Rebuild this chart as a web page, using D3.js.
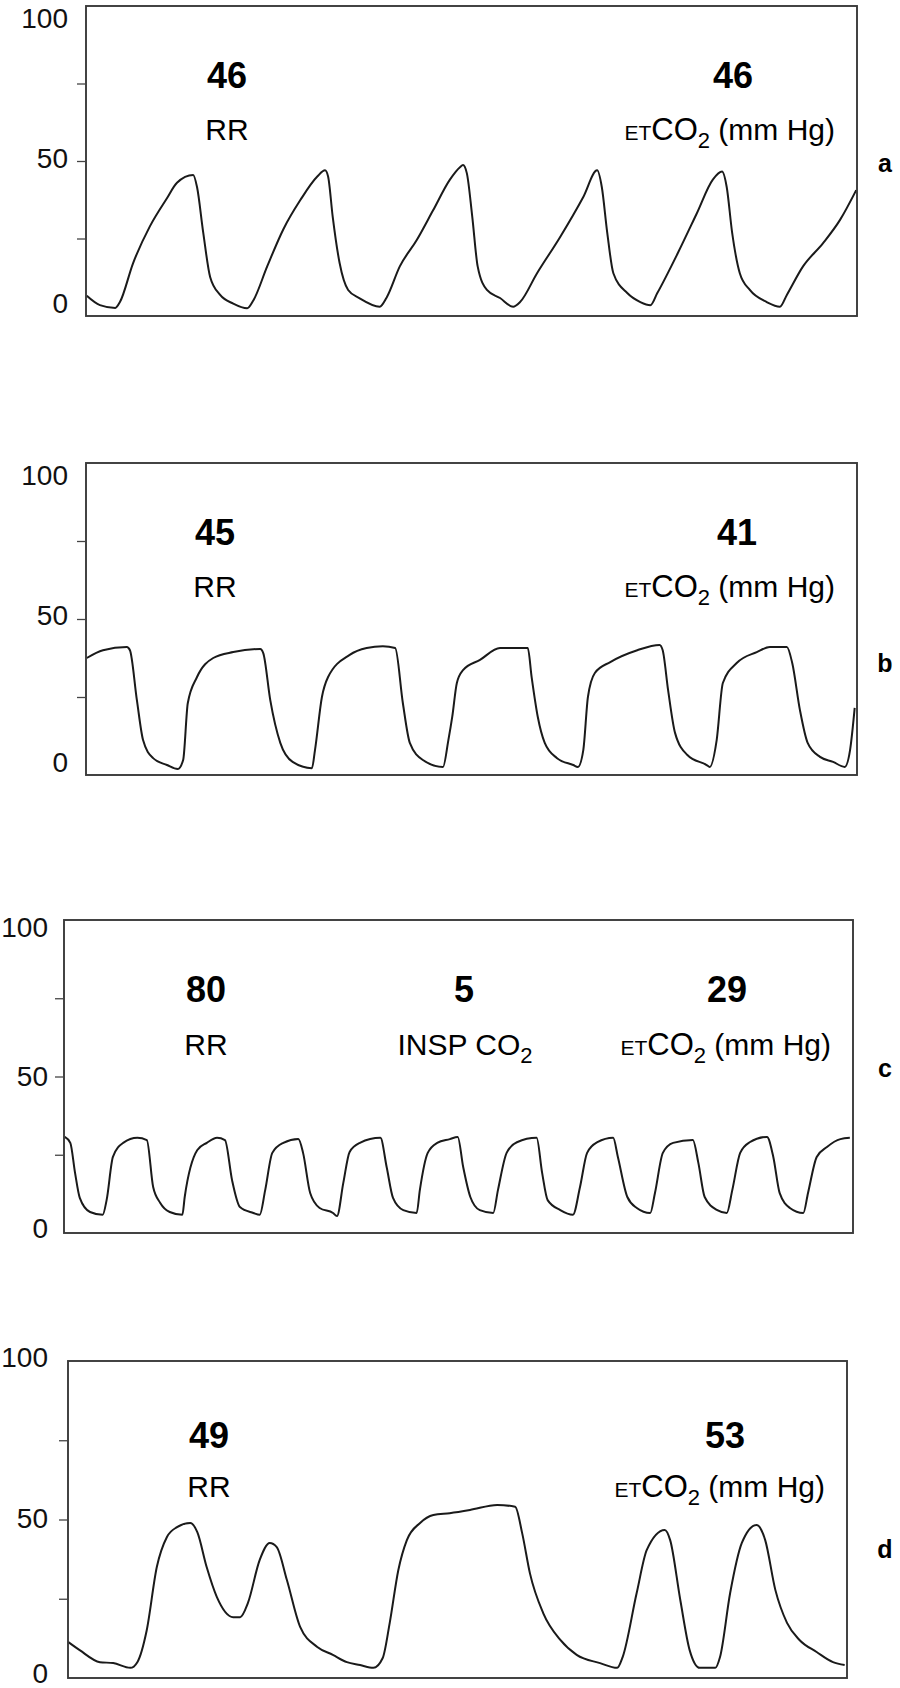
<!DOCTYPE html>
<meta charset="utf-8">
<style>
body { margin: 0; background: #fff; }
svg { display: block; font-family: "Liberation Sans", Arial, sans-serif; }
.axis .domain { display: none; }
</style>
<svg width="900" height="1688"></svg>
<script src="https://cdnjs.cloudflare.com/ajax/libs/d3/7.8.5/d3.min.js"></script>
<script>

// capnograph traces, time as % of sweep, CO2 in mm Hg
var aTime = [0.1, 1.8, 3.8, 4.4, 6.1, 8.3, 10.5, 11.8, 13.9, 14.4, 15.2, 16.1, 17.4, 19.1, 20.9, 21.7, 23.5, 25.6, 27.8, 30.0,
             31.0, 31.4, 32.0, 32.9, 34.0, 35.5, 38.1, 39.0, 40.7, 42.9, 45.0, 47.2, 48.5, 48.9, 49.4, 50.1, 50.8, 52.0, 53.7, 55.4,
             56.3, 58.5, 61.5, 64.5, 66.3, 66.9, 67.6, 68.4, 70.2, 71.9, 73.2, 74.1, 76.7, 79.2, 81.3, 82.5, 83.1, 83.8, 84.8, 86.1,
             88.3, 90.0, 90.9, 93.0, 95.6, 97.8, 99.9];
var aCO2 = [6.5, 3.5, 2.6, 4.5, 17, 29, 38, 43, 45.5, 41.6, 27, 12.6, 6.8, 4, 2.5, 5, 16, 28, 37.4, 45,
            47, 45, 32, 17, 8.4, 5.7, 3, 6, 16, 24.5, 34, 44, 48, 48.7, 46, 32, 16, 8.4, 5.8, 3,
            4.5, 13.8, 25.5, 38.4, 47, 41.6, 27, 13.8, 7.4, 4.5, 3.5, 7.4, 20, 33, 44, 46.6, 41.6, 27, 13.8, 8.4,
            4.5, 3, 6.8, 16, 23.5, 31, 40.6];

var bTime = [0.1, 2.2, 5.3, 5.7, 6.6, 7.4, 8.7, 10.5, 11.9, 12.6, 13.2, 14.4, 16.5, 19.1, 22.6, 23.0, 23.9, 25.2, 26.8, 29.3,
             29.7, 30.6, 31.4, 34.2, 36.4, 38.5, 40.1, 41.1, 42.0, 43.7, 46.3, 47.0, 47.5, 48.1, 48.9, 51.1, 53.7, 57.3, 57.8, 58.6,
             59.5, 61.1, 63.2, 63.8, 64.5, 65.1, 66.0, 68.0, 71.5, 74.4, 74.8, 75.5, 76.4, 78.0, 80.5, 80.9, 81.8, 82.6, 84.4, 87.0,
             88.7, 90.9, 91.6, 92.6, 93.6, 95.2, 96.9, 98.4, 99.1, 99.7];
var bCO2 = [37.5, 40, 41, 40, 24, 11.2, 5.4, 3.2, 1.9, 4.8, 23, 31.4, 37.5, 39.4, 40.4, 39, 24, 10.3, 4.2, 2.2,
            8, 25, 31.4, 38.5, 40.7, 41.3, 40.7, 23, 10.3, 4.8, 2.6, 11.2, 18.6, 29.5, 33.6, 36.9, 40.7, 40.7, 31.4, 18.6,
            10.3, 5.4, 3.2, 2.6, 8, 25, 32.7, 36.2, 40, 41.7, 40, 27.2, 13.5, 6.4, 3.2, 2.6, 11.2, 29.5, 35.9, 39.4,
            41, 41, 35.9, 20.8, 10.3, 5.8, 4.2, 2.6, 8, 21.5];

var cTime = [0.1, 0.8, 1.4, 2.0, 3.3, 4.9, 5.4, 6.2, 7.5, 9.3, 10.5, 11.3, 12.2, 13.4, 15.0, 15.3, 16.9, 18.1, 19.4, 20.4,
             21.3, 22.3, 24.0, 24.8, 25.5, 26.4, 27.8, 29.7, 30.3, 31.2, 32.4, 34.1, 34.6, 35.4, 36.2, 37.5, 40.1, 40.9, 41.7, 43.0,
             44.7, 45.1, 46.1, 47.3, 48.9, 49.9, 50.6, 51.5, 52.7, 54.4, 55.0, 56.1, 57.4, 59.9, 60.6, 61.3, 62.9, 64.5, 65.4, 66.3,
             67.6, 69.6, 70.2, 71.4, 72.6, 74.3, 74.9, 75.9, 77.2, 79.7, 80.4, 81.2, 82.8, 84.0, 84.7, 85.7, 86.9, 89.1, 89.9, 90.7,
             92.0, 93.7, 94.3, 95.4, 96.7, 98.4, 99.6];
var cCO2 = [30.7, 28.8, 19.2, 11.2, 6.7, 5.8, 10.5, 24.3, 28.8, 30.4, 29.7, 14.7, 9.6, 6.7, 5.8, 11.5, 26.5, 28.8, 30.4, 29.7,
            16.9, 8.3, 6.4, 5.8, 13.7, 25.6, 28.8, 30, 25.6, 12.8, 8, 6.4, 5.4, 16, 25.9, 28.8, 30.4, 21, 11.2, 7.3,
            6.4, 13.7, 25.6, 28.8, 30, 30.7, 21, 11.5, 7.3, 6.4, 13.7, 25.6, 29, 30.4, 19.2, 10.5, 7.3, 5.8, 14.7, 25.6,
            29, 30.4, 24.3, 11.5, 8, 6.4, 12.8, 25.6, 28.8, 29.7, 22.4, 11.5, 7.3, 6.4, 13.7, 25.6, 29, 30.7, 24.3, 12.8,
            8, 6.4, 12.8, 24.3, 27.5, 30, 30.4];

var dTime = [0, 1.5, 4.1, 5.8, 8.0, 8.9, 10.1, 11.4, 12.7, 14.0, 15.7, 16.6, 17.8, 19.1, 21.2, 22.1, 23.1, 24.6, 25.9, 26.8,
             28.1, 29.8, 32.0, 34.0, 35.8, 37.5, 39.2, 40.4, 41.3, 42.4, 43.5, 45.2, 46.9, 49.0, 51.6, 55.1, 57.4, 58.3, 59.3, 61.0,
             63.2, 65.3, 68.3, 70.5, 71.2, 73.0, 74.3, 76.6, 77.3, 78.6, 79.8, 81.1, 83.1, 83.7, 85.0, 86.5, 88.4, 89.5, 90.8, 92.3,
             93.9, 96.1, 98.2, 99.7];
var dCO2 = [11.4, 8.8, 5, 4.7, 3.2, 5, 15, 35, 44.5, 47.6, 48.9, 46, 35, 25.6, 19.2, 19.2, 23.7, 37.2, 42.6, 41.3,
            30.9, 16.1, 9.8, 7.3, 5, 4.1, 3.2, 6.3, 17.4, 34, 43.5, 48.9, 51.4, 52, 53, 54.6, 54, 45.7, 33, 20.5,
            12, 7.3, 4.7, 3.2, 6.6, 26.8, 40.4, 46.7, 43.5, 24.6, 8.8, 3.2, 3.2, 6.6, 26.8, 42.6, 48.3, 43.5, 27.8, 17.4,
            12, 8.2, 5, 4.1];

var panelLetters = ["a", "b", "c", "d"];
var rrValues = ["46", "45", "80", "49"];
var etco2Values = ["46", "41", "29", "53"];
var inspValues = [null, null, "5", null];
var yLabels = [0, 50, 100];
var yTicks = [25, 50, 75];

// page layout (px)
var frames = [
  {x0: 86, x1: 857, y0: 6,    y1: 316,  lblX: 18, dTop: 12, dMid: -3, dBot: -13, numY: 88,   txtY: 140,  rrX: 227, etX: 733, letY: 172},
  {x0: 86, x1: 857, y0: 463,  y1: 775,  lblX: 18, dTop: 12, dMid: -4, dBot: -13, numY: 545,  txtY: 597,  rrX: 215, etX: 737, letY: 672},
  {x0: 64, x1: 853, y0: 920,  y1: 1233, lblX: 16, dTop: 7,  dMid: -1, dBot: -5,  numY: 1002, txtY: 1055, rrX: 206, etX: 727, letY: 1077},
  {x0: 68, x1: 847, y0: 1361, y1: 1678, lblX: 20, dTop: -4, dMid: -2, dBot: -5,  numY: 1448, txtY: 1497, rrX: 209, etX: 725, letY: 1558}
];

var traces = [[aTime, aCO2], [bTime, bCO2], [cTime, cCO2], [dTime, dCO2]];

var svg = d3.select("svg");

frames.forEach(function(f, i) {
  var x = d3.scaleLinear().domain([0, 100]).range([f.x0, f.x1]),
      y = d3.scaleLinear().domain([0, 100]).range([f.y1, f.y0]);

  var g = svg.append("g");

  // trace
  var pts = traces[i][0].map(function(t, k) { return [t, traces[i][1][k]]; });
  g.append("path")
      .datum(pts)
      .attr("fill", "none")
      .attr("stroke", "#1a1a1a")
      .attr("stroke-width", 2)
      .attr("stroke-linejoin", "round")
      .attr("d", d3.line()
        .curve(d3.curveMonotoneX)
        .x(function(d) { return x(d[0]); })
        .y(function(d) { return y(d[1]); }));

  // frame
  g.append("rect")
      .attr("x", f.x0)
      .attr("y", f.y0)
      .attr("width", f.x1 - f.x0)
      .attr("height", f.y1 - f.y0)
      .attr("fill", "none")
      .attr("stroke", "#3a3a3a")
      .attr("stroke-width", 1.9);

  // tick marks
  g.append("g")
      .attr("class", "axis")
      .attr("transform", "translate(" + f.x0 + ",0)")
      .call(d3.axisLeft(y).tickValues(yTicks).tickSize(9).tickFormat(""))
      .selectAll("line")
      .attr("stroke", "#444")
      .attr("stroke-width", 1.3);

  // tick labels
  g.append("g")
      .selectAll("text")
      .data(yLabels)
      .enter().append("text")
      .attr("x", f.x0 - f.lblX)
      .attr("y", function(d) { return y(d) + (d === 100 ? f.dTop : d === 0 ? f.dBot : f.dMid); })
      .attr("dy", "0.36em")
      .attr("text-anchor", "end")
      .attr("font-size", 28)
      .attr("fill", "#111")
      .text(function(d) { return d; });

  // readouts
  g.append("text")
      .attr("x", f.rrX)
      .attr("y", f.numY)
      .attr("text-anchor", "middle")
      .attr("font-size", 36)
      .attr("font-weight", "bold")
      .text(rrValues[i]);

  g.append("text")
      .attr("x", f.rrX)
      .attr("y", f.txtY)
      .attr("text-anchor", "middle")
      .attr("font-size", 30)
      .text("RR");

  g.append("text")
      .attr("x", f.etX)
      .attr("y", f.numY)
      .attr("text-anchor", "middle")
      .attr("font-size", 36)
      .attr("font-weight", "bold")
      .text(etco2Values[i]);

  var et = g.append("text")
      .attr("x", f.x1 - 22)
      .attr("y", f.txtY)
      .attr("text-anchor", "end")
      .attr("font-size", 30);
  et.append("tspan").attr("font-size", 21).text("ET");
  et.append("tspan").attr("font-size", 31).text("CO");
  et.append("tspan").attr("font-size", 22).attr("dy", 8).text("2");
  et.append("tspan").attr("dy", -8).text(" (mm Hg)");

  if (inspValues[i] !== null) {
    g.append("text")
        .attr("x", 464)
        .attr("y", f.numY)
        .attr("text-anchor", "middle")
        .attr("font-size", 36)
        .attr("font-weight", "bold")
        .text(inspValues[i]);

    var insp = g.append("text")
        .attr("x", 465)
        .attr("y", f.txtY)
        .attr("text-anchor", "middle")
        .attr("font-size", 30);
    insp.append("tspan").text("INSP CO");
    insp.append("tspan").attr("font-size", 22).attr("dy", 8).text("2");
  }

  g.append("text")
      .attr("x", 885)
      .attr("y", f.letY)
      .attr("text-anchor", "middle")
      .attr("font-size", 25)
      .attr("font-weight", "bold")
      .text(panelLetters[i]);
});

</script>
